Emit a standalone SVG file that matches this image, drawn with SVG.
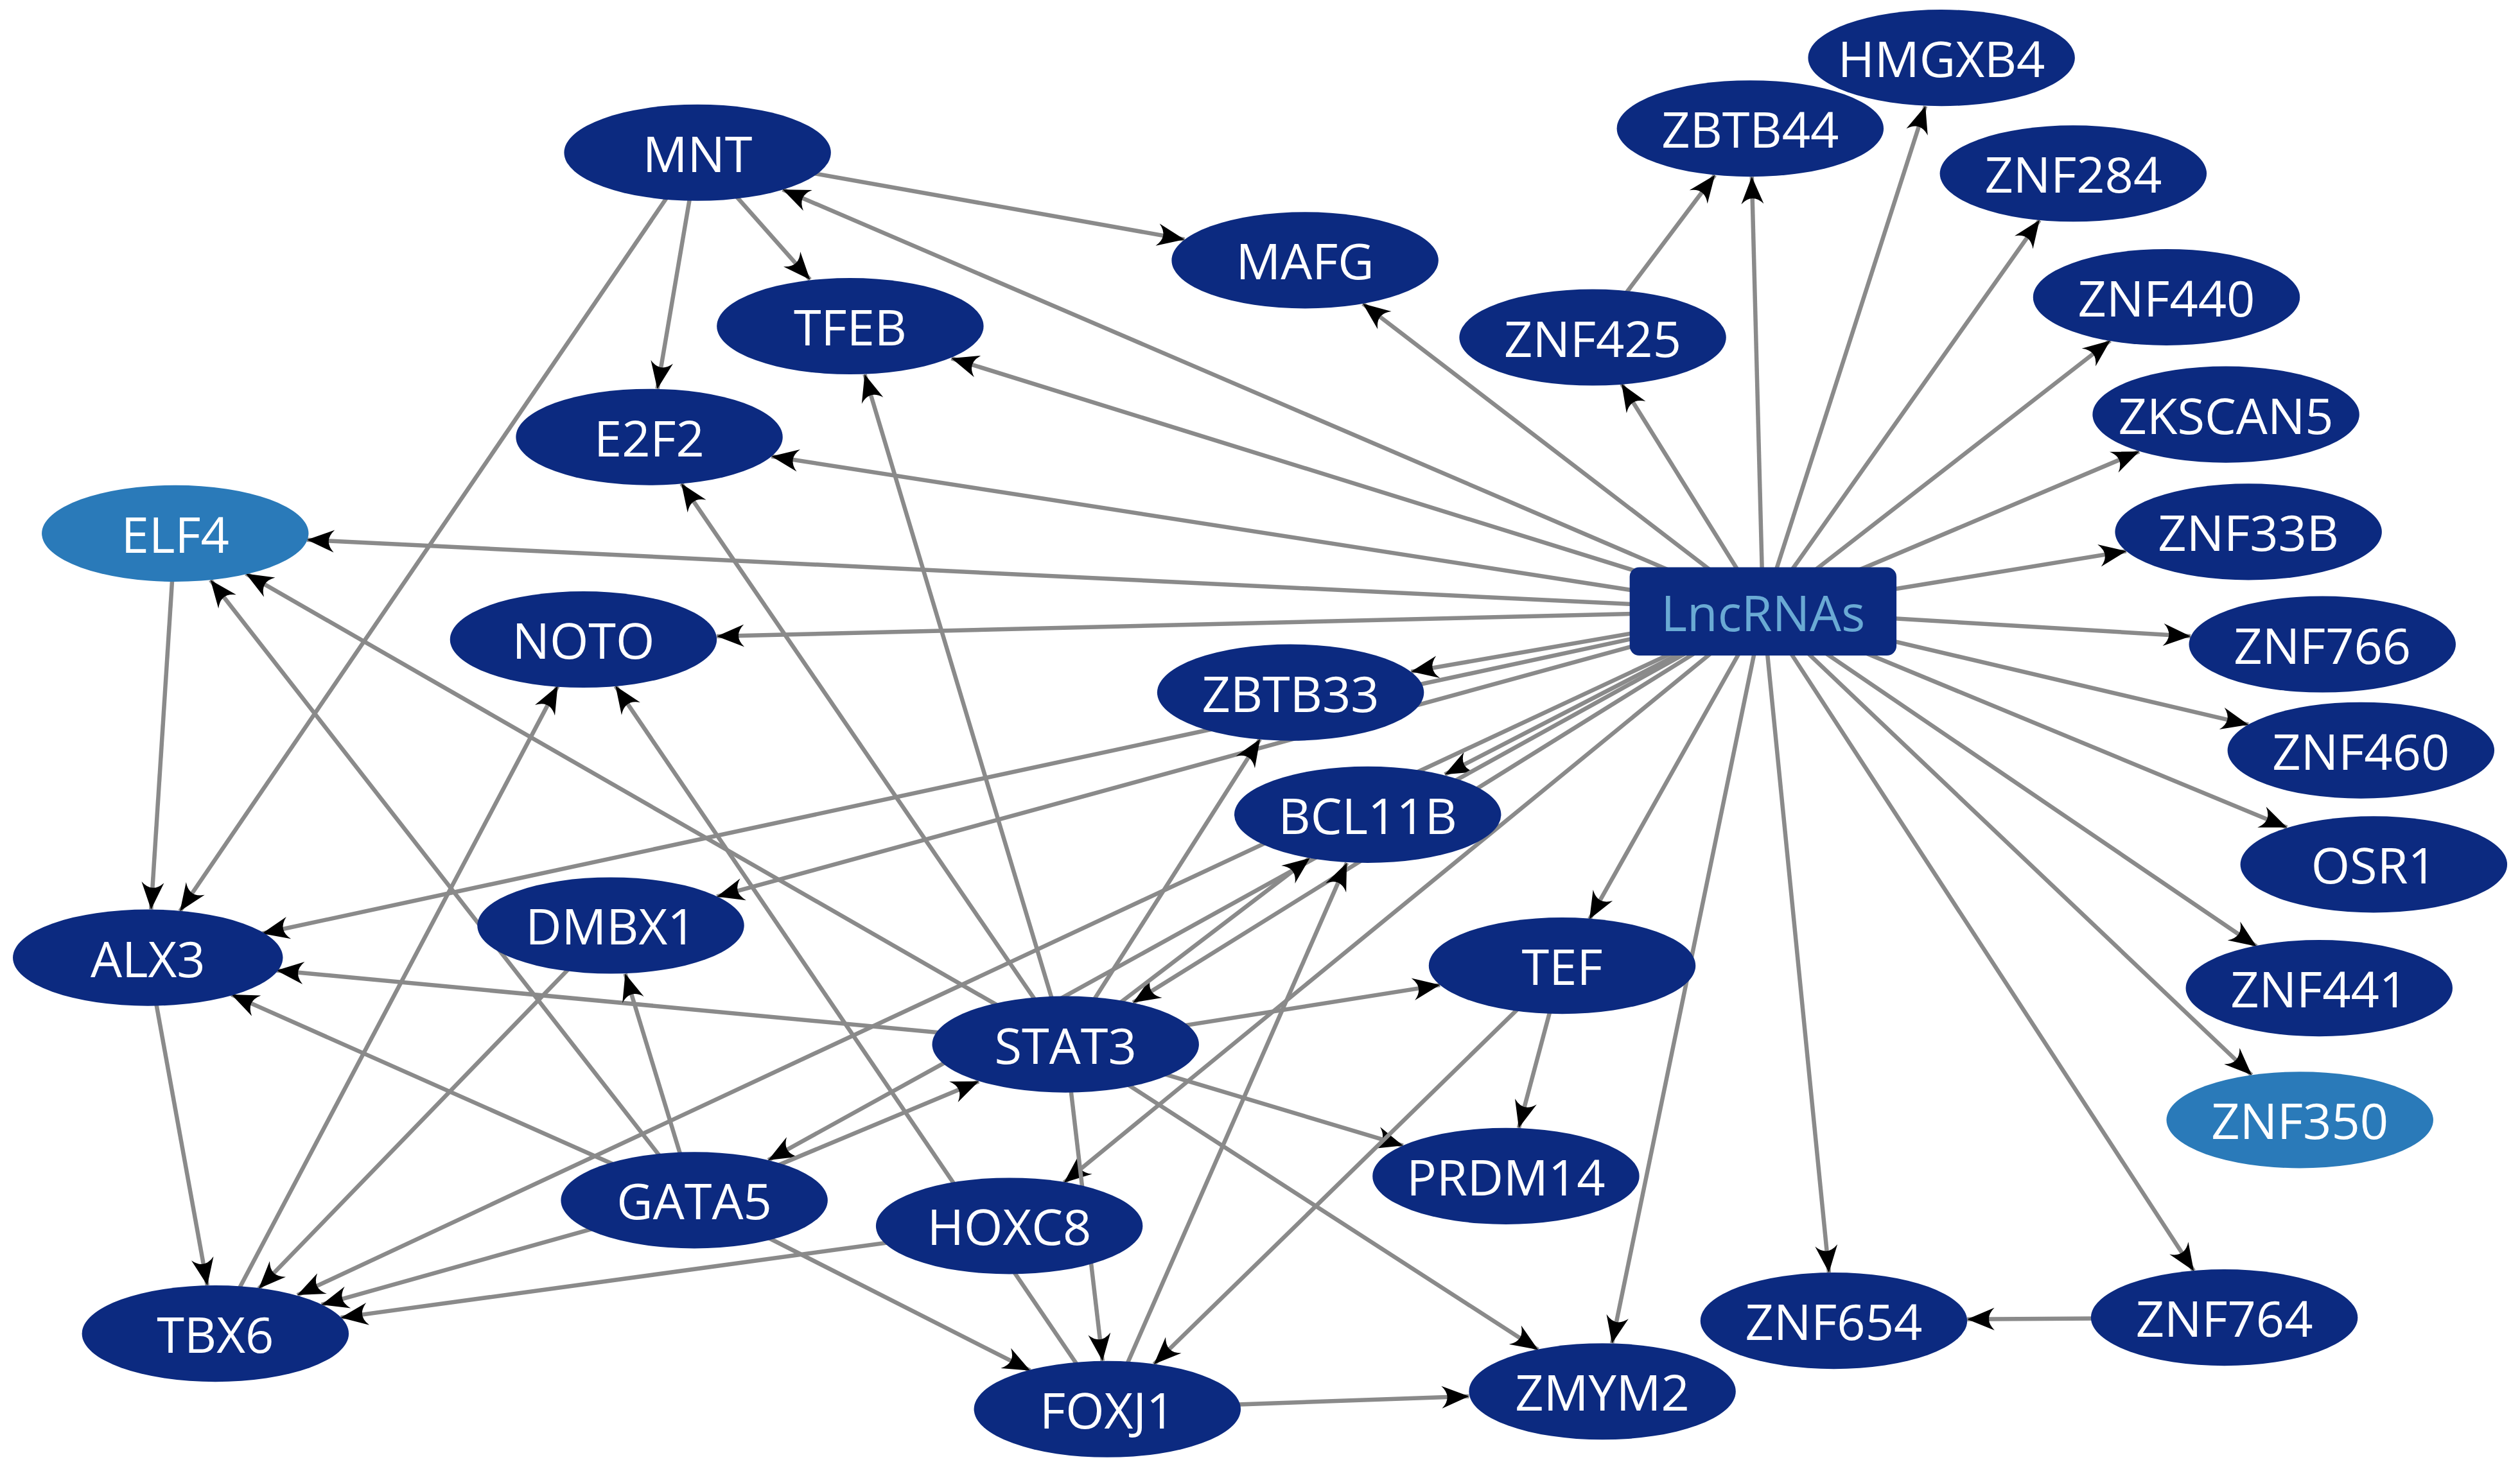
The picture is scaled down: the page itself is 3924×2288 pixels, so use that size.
<svg xmlns="http://www.w3.org/2000/svg" width="3924" height="2288" viewBox="0 0 3924 2288">
<style>
.e line{stroke:#8a8a8a;stroke-width:2.6;marker-end:url(#ah)}
.n ellipse{fill:#0c2a80}
.n.l ellipse{fill:#2a7ab9}
.n text{font-family:"Open Sans","DejaVu Sans",sans-serif;font-size:31px;fill:#fff;text-anchor:middle;dominant-baseline:central}
</style>
<defs>
<marker id="ah" markerUnits="userSpaceOnUse" markerWidth="40" markerHeight="40" refX="0" refY="0" orient="auto" overflow="visible" viewBox="-20 -20 40 40">
<path d="M0,0 L-17,-7 Q-10,0 -17,7 Z" fill="#000"/>
</marker>
</defs>
<rect width="3924" height="2288" fill="#fff"/>
<g transform="scale(2.5026)">
<g id="edges" class="e">
<line x1="1097" y1="380" x2="487" y2="118"/>
<line x1="1097" y1="380" x2="848" y2="189"/>
<line x1="1097" y1="380" x2="592" y2="223"/>
<line x1="1097" y1="380" x2="480" y2="284"/>
<line x1="1097" y1="380" x2="191" y2="336"/>
<line x1="1097" y1="380" x2="446" y2="396"/>
<line x1="1097" y1="380" x2="878" y2="418"/>
<line x1="1097" y1="380" x2="899" y2="482"/>
<line x1="1097" y1="380" x2="163" y2="581"/>
<line x1="1097" y1="380" x2="446" y2="558"/>
<line x1="1097" y1="380" x2="185" y2="806"/>
<line x1="1097" y1="380" x2="705" y2="624"/>
<line x1="1097" y1="380" x2="478" y2="722"/>
<line x1="1097" y1="380" x2="662" y2="736"/>
<line x1="1097" y1="380" x2="989" y2="572"/>
<line x1="1097" y1="380" x2="1003" y2="836"/>
<line x1="1097" y1="380" x2="1138" y2="792"/>
<line x1="1097" y1="380" x2="1365" y2="791"/>
<line x1="1097" y1="380" x2="1401" y2="669"/>
<line x1="1097" y1="380" x2="1404" y2="589"/>
<line x1="1097" y1="380" x2="1423" y2="515"/>
<line x1="1097" y1="380" x2="1399" y2="451"/>
<line x1="1097" y1="380" x2="1363" y2="396"/>
<line x1="1097" y1="380" x2="1323" y2="343"/>
<line x1="1097" y1="380" x2="1331" y2="281"/>
<line x1="1097" y1="380" x2="1313" y2="212"/>
<line x1="1097" y1="380" x2="1269" y2="137"/>
<line x1="1097" y1="380" x2="1198" y2="66"/>
<line x1="1097" y1="380" x2="1090" y2="110"/>
<line x1="1097" y1="380" x2="1009" y2="239"/>
<line x1="991" y1="210" x2="1067" y2="109"/>
<line x1="1384" y1="820" x2="1224" y2="821"/>
<line x1="434" y1="95" x2="737" y2="149"/>
<line x1="434" y1="95" x2="504" y2="174"/>
<line x1="434" y1="95" x2="409" y2="242"/>
<line x1="434" y1="95" x2="112" y2="567"/>
<line x1="109" y1="332" x2="94" y2="566"/>
<line x1="92" y1="596" x2="129" y2="800"/>
<line x1="663" y1="650" x2="172" y2="604"/>
<line x1="663" y1="650" x2="153" y2="357"/>
<line x1="663" y1="650" x2="424" y2="301"/>
<line x1="663" y1="650" x2="538" y2="233"/>
<line x1="663" y1="650" x2="784" y2="460"/>
<line x1="663" y1="650" x2="815" y2="534"/>
<line x1="663" y1="650" x2="896" y2="613"/>
<line x1="663" y1="650" x2="873" y2="713"/>
<line x1="663" y1="650" x2="957" y2="840"/>
<line x1="663" y1="650" x2="686" y2="847"/>
<line x1="432" y1="747" x2="609" y2="673"/>
<line x1="432" y1="747" x2="389" y2="606"/>
<line x1="432" y1="747" x2="144" y2="619"/>
<line x1="432" y1="747" x2="131" y2="361"/>
<line x1="432" y1="747" x2="200" y2="812"/>
<line x1="432" y1="747" x2="641" y2="853"/>
<line x1="628" y1="763" x2="212" y2="820"/>
<line x1="380" y1="576" x2="161" y2="802"/>
<line x1="134" y1="830" x2="347" y2="427"/>
<line x1="689" y1="877" x2="383" y2="427"/>
<line x1="689" y1="877" x2="914" y2="869"/>
<line x1="689" y1="877" x2="838" y2="537"/>
<line x1="972" y1="601" x2="718" y2="849"/>
<line x1="972" y1="601" x2="945" y2="702"/>
</g>
<g id="LncRNAs"><rect x="1014" y="353" width="166" height="55" rx="6" fill="#0c2a80"/><text x="1097" y="381" font-family="Open Sans, DejaVu Sans, sans-serif" font-size="31" fill="#6aaad4" text-anchor="middle" dominant-baseline="central">LncRNAs</text></g>
<g id="MNT" class="n"><ellipse cx="434" cy="95" rx="83" ry="30"/><text x="434" y="95">MNT</text></g>
<g id="MAFG" class="n"><ellipse cx="812" cy="162" rx="83" ry="30"/><text x="812" y="162">MAFG</text></g>
<g id="TFEB" class="n"><ellipse cx="529" cy="203" rx="83" ry="30"/><text x="529" y="203">TFEB</text></g>
<g id="E2F2" class="n"><ellipse cx="404" cy="272" rx="83" ry="30"/><text x="404" y="272">E2F2</text></g>
<g id="ELF4" class="n l"><ellipse cx="109" cy="332" rx="83" ry="30"/><text x="109" y="332">ELF4</text></g>
<g id="NOTO" class="n"><ellipse cx="363" cy="398" rx="83" ry="30"/><text x="363" y="398">NOTO</text></g>
<g id="ZBTB33" class="n"><ellipse cx="803" cy="431" rx="83" ry="30"/><text x="803" y="431">ZBTB33</text></g>
<g id="BCL11B" class="n"><ellipse cx="851" cy="507" rx="83" ry="30"/><text x="851" y="507">BCL11B</text></g>
<g id="DMBX1" class="n"><ellipse cx="380" cy="576" rx="83" ry="30"/><text x="380" y="576">DMBX1</text></g>
<g id="ALX3" class="n"><ellipse cx="92" cy="596" rx="84" ry="30"/><text x="92" y="596">ALX3</text></g>
<g id="STAT3" class="n"><ellipse cx="663" cy="650" rx="83" ry="30"/><text x="663" y="650">STAT3</text></g>
<g id="TEF" class="n"><ellipse cx="972" cy="601" rx="83" ry="30"/><text x="972" y="601">TEF</text></g>
<g id="PRDM14" class="n"><ellipse cx="937" cy="732" rx="83" ry="30"/><text x="937" y="732">PRDM14</text></g>
<g id="GATA5" class="n"><ellipse cx="432" cy="747" rx="83" ry="30"/><text x="432" y="747">GATA5</text></g>
<g id="HOXC8" class="n"><ellipse cx="628" cy="763" rx="83" ry="30"/><text x="628" y="763">HOXC8</text></g>
<g id="TBX6" class="n"><ellipse cx="134" cy="830" rx="83" ry="30"/><text x="134" y="830">TBX6</text></g>
<g id="FOXJ1" class="n"><ellipse cx="689" cy="877" rx="83" ry="30"/><text x="689" y="877">FOXJ1</text></g>
<g id="ZMYM2" class="n"><ellipse cx="997" cy="866" rx="83" ry="30"/><text x="997" y="866">ZMYM2</text></g>
<g id="ZNF654" class="n"><ellipse cx="1141" cy="822" rx="83" ry="30"/><text x="1141" y="822">ZNF654</text></g>
<g id="ZNF764" class="n"><ellipse cx="1384" cy="820" rx="83" ry="30"/><text x="1384" y="820">ZNF764</text></g>
<g id="ZNF350" class="n l"><ellipse cx="1431" cy="697" rx="83" ry="30"/><text x="1431" y="697">ZNF350</text></g>
<g id="ZNF441" class="n"><ellipse cx="1443" cy="615" rx="83" ry="30"/><text x="1443" y="615">ZNF441</text></g>
<g id="OSR1" class="n"><ellipse cx="1477" cy="538" rx="83" ry="30"/><text x="1477" y="538">OSR1</text></g>
<g id="ZNF460" class="n"><ellipse cx="1469" cy="467" rx="83" ry="30"/><text x="1469" y="467">ZNF460</text></g>
<g id="ZNF766" class="n"><ellipse cx="1445" cy="401" rx="83" ry="30"/><text x="1445" y="401">ZNF766</text></g>
<g id="ZNF33B" class="n"><ellipse cx="1399" cy="331" rx="83" ry="30"/><text x="1399" y="331">ZNF33B</text></g>
<g id="ZKSCAN5" class="n"><ellipse cx="1385" cy="258" rx="83" ry="30"/><text x="1385" y="258">ZKSCAN5</text></g>
<g id="ZNF440" class="n"><ellipse cx="1348" cy="185" rx="83" ry="30"/><text x="1348" y="185">ZNF440</text></g>
<g id="ZNF284" class="n"><ellipse cx="1290" cy="108" rx="83" ry="30"/><text x="1290" y="108">ZNF284</text></g>
<g id="HMGXB4" class="n"><ellipse cx="1208" cy="36" rx="83" ry="30"/><text x="1208" y="36">HMGXB4</text></g>
<g id="ZBTB44" class="n"><ellipse cx="1089" cy="80" rx="83" ry="30"/><text x="1089" y="80">ZBTB44</text></g>
<g id="ZNF425" class="n"><ellipse cx="991" cy="210" rx="83" ry="30"/><text x="991" y="210">ZNF425</text></g>
</g>
</svg>
